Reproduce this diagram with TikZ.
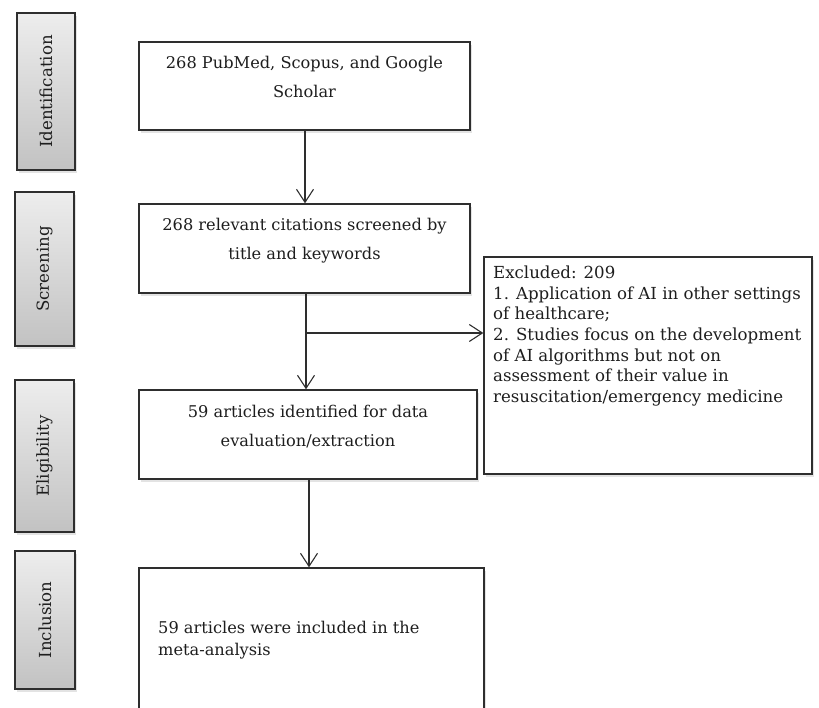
\documentclass[tikz,border=0pt]{standalone}
\usepackage{fontspec}
\setmainfont{DejaVu Serif}
\usetikzlibrary{arrows.meta,shadows}
\definecolor{linec}{HTML}{2E2E2E}
\definecolor{gtop}{HTML}{EDEDED}
\definecolor{gbot}{HTML}{C2C2C2}
\definecolor{txtc}{HTML}{1E1E1E}
\tikzset{
  flowbox/.style={draw=linec, line width=1.4pt, fill=white, inner sep=0pt,
    drop shadow={opacity=0.22, shadow xshift=2pt, shadow yshift=-3pt}},
  stagebox/.style={draw=linec, line width=1.4pt, inner sep=0pt,
    top color=gtop, bottom color=gbot,
    drop shadow={opacity=0.22, shadow xshift=2pt, shadow yshift=-3pt}},
  stagelabel/.style={rotate=90, font=\fontsize{16.6}{19}\selectfont, text=txtc},
  ctext/.style={font=\fontsize{16.2}{28.5}\selectfont, align=center, inner sep=0pt, anchor=north, text=txtc},
  ltext/.style={font=\fontsize{16.6}{20.7}\selectfont, align=left, inner sep=0pt, anchor=north west, text=txtc},
  lltext/.style={font=\fontsize{16.2}{21.5}\selectfont, align=left, inner sep=0pt, anchor=north west, text=txtc},
  arr/.style={draw=linec, line width=1.1pt, -{Straight Barb[length=13pt,width=17pt,line width=1.1pt]}}
}
\begin{document}
\begin{tikzpicture}[x=1pt,y=-1pt]
\useasboundingbox (0,0) rectangle (819,708);
% stage boxes
\node[stagebox, minimum width=58pt, minimum height=157pt] (s1) at (46,91.5) {};
\node[stagelabel] (s1t) at (s1.center) {Identification};
\node[stagebox, minimum width=59pt, minimum height=154pt] (s2) at (44.5,269) {};
\node[stagelabel] (s2t) at (s2.center) {Screening};
\node[stagebox, minimum width=59pt, minimum height=152pt] (s3) at (44.5,456) {};
\node[stagelabel] (s3t) at (s3.center) {Eligibility};
\node[stagebox, minimum width=60pt, minimum height=138pt] (s4) at (45,620) {};
\node[stagelabel] (s4t) at (s4.center) {Inclusion};
% flow boxes
\node[flowbox, minimum width=331pt, minimum height=88pt] (b1) at (304.5,86) {};
\node[ctext] (b1t) at (304.5,56) {268 PubMed, Scopus, and Google\\Scholar};
\node[flowbox, minimum width=331pt, minimum height=89pt] (b2) at (304.5,248.5) {};
\node[ctext] (b2t) at (304.5,218) {268 relevant citations screened by\\title and keywords};
\node[flowbox, minimum width=338pt, minimum height=89pt] (b3) at (308,434.5) {};
\node[ctext] (b3t) at (308,405) {59 articles identified for data\\evaluation/extraction};
\node[flowbox, minimum width=345pt, minimum height=170pt] (b4) at (311.5,653) {};
\node[lltext] (b4t) at (158,621) {59 articles were included in the\\meta-analysis};
\node[flowbox, minimum width=328pt, minimum height=217pt] (ex) at (648,365.5) {};
\node[ltext] (ext) at (493,265.5) {Excluded: 209\\1. Application of AI in other settings\\of healthcare;\\2. Studies focus on the development\\of AI algorithms but not on\\assessment of their value in\\resuscitation/emergency medicine};
% connectors
\coordinate (j) at (306,333);
\coordinate (c1) at (305,0);
\coordinate (c3) at (309,0);
\draw[arr] (b1.south -| c1) -- (b2.north -| c1);
\draw[arr] (b2.south -| j) -- (b3.north -| j);
\draw[arr] (j) -- (ex.west |- j);
\draw[arr] (b3.south -| c3) -- (b4.north -| c3);
\end{tikzpicture}
\end{document}
